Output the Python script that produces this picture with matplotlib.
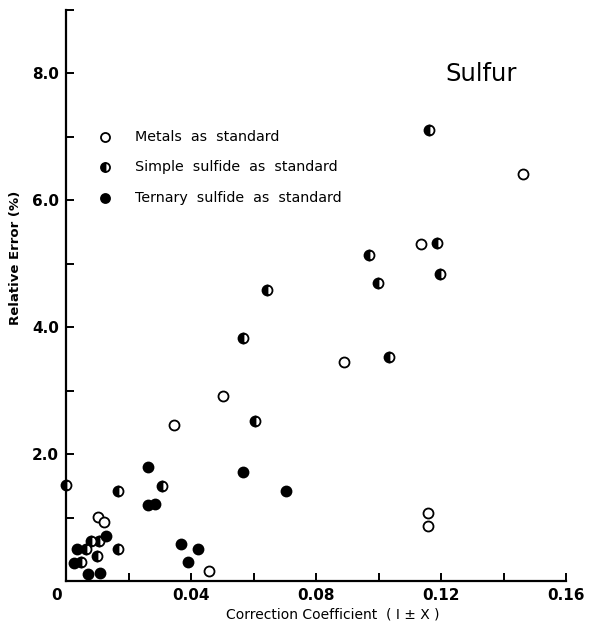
import matplotlib
matplotlib.use("Agg")
import matplotlib.pyplot as plt

# ---- data ----
metals_x = [0.0103, 0.0122, 0.0346, 0.0503, 0.0890, 0.1136, 0.1461, 0.1157, 0.1157, 0.0459]
metals_y = [1.01, 0.93, 2.45, 2.91, 3.45, 5.31, 6.41, 1.07, 0.86, 0.15]

simple_x = [0.0000, 0.0167, 0.0308, 0.0642, 0.0567, 0.0605, 0.1162, 0.1188, 0.0971, 0.1198,
            0.0999, 0.1035, 0.0106, 0.0079, 0.0064, 0.0098, 0.0048, 0.0165]
simple_y = [1.51, 1.41, 1.50, 4.59, 3.82, 2.52, 7.11, 5.32, 5.13, 4.83,
            4.69, 3.53, 0.63, 0.63, 0.51, 0.39, 0.30, 0.50]

ternary_x = [0.0263, 0.0261, 0.0285, 0.0368, 0.0391, 0.0423, 0.0567, 0.0704,
             0.0128, 0.0036, 0.0026, 0.0071, 0.0109]
ternary_y = [1.80, 1.20, 1.22, 0.59, 0.30, 0.51, 1.71, 1.42,
             0.71, 0.50, 0.29, 0.11, 0.12]

legend_labels = ["Metals  as  standard", "Simple  sulfide  as  standard", "Ternary  sulfide  as  standard"]
x_ticks = [0, 0.02, 0.04, 0.06, 0.08, 0.10, 0.12, 0.14, 0.16]
x_ticklabels = ["", "", "0.04", "", "0.08", "", "0.12", "", "0.16"]
origin_label = "0"
y_ticks = [1, 2, 3, 4, 5, 6, 7, 8, 9]
y_ticklabels = ["", "2.0", "", "4.0", "", "6.0", "", "8.0", ""]
title_text = "Sulfur"
xlabel_text = "Correction Coefficient  ( I \u00b1 X )"
ylabel_text = "Relative Error (%)"

# ---- figure ----
fig = plt.figure(figsize=(5.92, 6.22), dpi=100)
ax = fig.add_axes([66/592, 41/622, 500/592, 571.5/622])

ms = 7.2
mew = 1.3
styles = [
    dict(marker="o", mfc="white", mec="black", fillstyle="full"),
    dict(marker="o", mfc="black", mfcalt="white", mec="black", fillstyle="left"),
    dict(marker="o", mfc="black", mec="black", fillstyle="full"),
]
series = [(metals_x, metals_y), (simple_x, simple_y), (ternary_x, ternary_y)]
for (xs, ys), st in zip(series, styles):
    ax.plot(xs, ys, linestyle="none", ms=ms, mew=mew, clip_on=False, zorder=3, **st)

# legend drawn inside the axes like the original
leg_y = [6.99, 6.52, 6.03]
for lab, yy, st in zip(legend_labels, leg_y, styles):
    ax.plot([0.0125], [yy], linestyle="none", ms=6.5, mew=mew, **st)
    ax.text(0.0221, yy, lab, fontsize=10.3, va="center", ha="left", color="black")

ax.text(0.1328, 7.98, title_text, fontsize=17.5, ha="center", va="center")

ax.set_xlim(0, 0.16)
ax.set_ylim(0, 9.0)
for s in ["top", "right"]:
    ax.spines[s].set_visible(False)
for s in ["left", "bottom"]:
    ax.spines[s].set_linewidth(1.6)

ax.set_xticks(x_ticks)
ax.set_xticklabels(x_ticklabels, fontsize=11, fontweight="bold")
ax.set_yticks(y_ticks)
ax.set_yticklabels(y_ticklabels, fontsize=11, fontweight="bold")
ax.tick_params(axis="both", direction="in", length=6, width=1.4, pad=5)

# shared origin "0" sits slightly left of the corner
ax.annotate(origin_label, xy=(0, 0), xycoords="data", xytext=(-7, -5),
            textcoords="offset points", ha="center", va="top",
            fontsize=11, fontweight="bold", annotation_clip=False)

ax.set_xlabel(xlabel_text, fontsize=10)
ax.set_ylabel(ylabel_text, fontsize=9.5, fontweight="bold")
ax.xaxis.set_label_coords(0.534, -0.047)
ax.yaxis.set_label_coords(-0.088, 0.565)

fig.savefig("out.png", dpi=100)
